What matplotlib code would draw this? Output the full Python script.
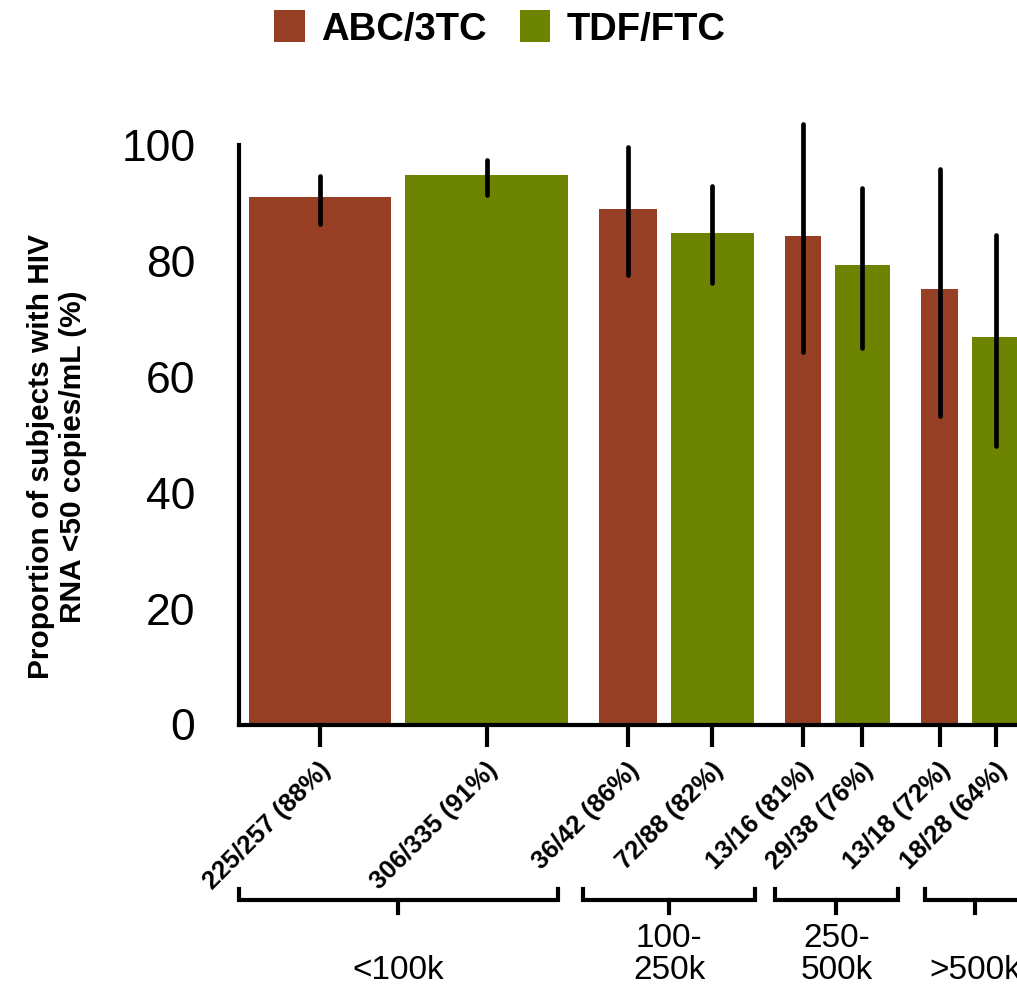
import matplotlib
matplotlib.use("Agg")
import matplotlib.pyplot as plt
import matplotlib.transforms as mtransforms
from matplotlib.patches import Patch
import numpy as np

plt.rcParams['font.family'] = ['Liberation Sans', 'DejaVu Sans']

# data
groups = ['<100k', '100-\n250k', '250-\n500k', '>500k']
arms = ['ABC/3TC', 'TDF/FTC']
colors = ['#973f25', '#6c8400']

abc_resp = [225, 36, 13, 13]
abc_n = [257, 42, 16, 18]
abc_pct = [88, 86, 81, 72]
abc_est = [91.0, 89.0, 84.3, 75.2]
abc_lo = [86.4, 77.6, 64.3, 53.3]
abc_hi = [94.6, 99.6, 103.6, 95.9]

tdf_resp = [306, 72, 29, 18]
tdf_n = [335, 88, 38, 28]
tdf_pct = [91, 82, 76, 64]
tdf_est = [94.8, 84.8, 79.3, 66.9]
tdf_lo = [91.4, 76.2, 65.0, 48.1]
tdf_hi = [97.4, 92.9, 92.6, 84.5]

# layout (x units: bar width = sqrt(n))
PX = 8.9                 # pixels per x unit
START = 10 / PX
GAP_IN = 14 / PX
GAP_OUT = 31 / PX
# bracket end padding in pixels (left, right) relative to each group's bars
BRACKET_PAD = [(-10, -10), (-16, 1), (-10, 8), (4, 6)]


def main():
    fig = plt.figure(figsize=(10.17, 9.84), dpi=100)
    W, H = 1017, 984
    x0, y0, ytop = 238.5, 724.5, 145
    xmax = 95
    ax = fig.add_axes([x0 / W, 1 - y0 / H, xmax * PX / W, (y0 - ytop) / H])

    arm_data = [
        (abc_resp, abc_n, abc_pct, abc_est, abc_lo, abc_hi),
        (tdf_resp, tdf_n, tdf_pct, tdf_est, tdf_lo, tdf_hi),
    ]

    x = START
    centers, labels, group_spans = [], [], []
    for g in range(len(groups)):
        g_left = x
        for a, (resp, n, pct, est, lo, hi) in enumerate(arm_data):
            w = np.sqrt(n[g])
            cx = x + w / 2
            ax.bar(cx, est[g], width=w, color=colors[a], zorder=1)
            ax.errorbar([cx], [est[g]], yerr=[[est[g] - lo[g]], [hi[g] - est[g]]],
                        fmt='none', ecolor='black', elinewidth=3.4, capsize=0,
                        zorder=3, clip_on=False)
            centers.append(cx)
            labels.append(f'{resp[g]}/{n[g]} ({pct[g]}%)')
            x += w + GAP_IN
        group_spans.append((g_left, x - GAP_IN))
        x += GAP_OUT - GAP_IN

    for coll in ax.collections:
        coll.set_capstyle('round')

    ax.set_xlim(0, xmax)
    ax.set_ylim(0, 100)
    ax.set_yticks([0, 20, 40, 60, 80, 100])
    ax.tick_params(axis='y', length=0, pad=31, labelsize=32)
    ax.set_xticks(centers)
    ax.set_xticklabels([])
    ax.tick_params(axis='x', length=16, width=3, direction='out')
    for side in ['top', 'right']:
        ax.spines[side].set_visible(False)
    for side in ['left', 'bottom']:
        ax.spines[side].set_linewidth(3)

    # rotated count labels under each tick
    offset = mtransforms.ScaledTranslation(-1 / 72, -24 / 72, fig.dpi_scale_trans)
    for cx, lab in zip(centers, labels):
        ax.text(cx, 0, lab, transform=ax.get_xaxis_transform() + offset,
                rotation=45, rotation_mode='anchor', ha='right', va='top',
                fontsize=18.5, fontweight='bold')

    # group brackets
    axh = y0 - ytop
    y_line = (y0 - 900) / axh
    y_end = (y0 - 889) / axh
    y_tick = (y0 - 913) / axh
    y_lab = (y0 - 979) / axh
    trans = ax.get_xaxis_transform()
    for (gl, gr), (pl, pr), name in zip(group_spans, BRACKET_PAD, groups):
        left, right = gl + pl / PX, gr + pr / PX
        mid = (left + right) / 2
        ax.plot([left, left, right, right], [y_end, y_line, y_line, y_end],
                color='black', lw=3, transform=trans, clip_on=False,
                solid_joinstyle='miter')
        ax.plot([mid, mid], [y_line, y_tick], color='black', lw=3,
                transform=trans, clip_on=False)
        ax.text(mid, y_lab, name, transform=trans, ha='center', va='baseline',
                fontsize=24, linespacing=1.05, multialignment='center')

    fig.text(57 / W, 1 - 457 / H,
             'Proportion of subjects with HIV\nRNA <50 copies/mL (%)',
             rotation=90, ha='center', va='center', multialignment='center',
             fontsize=21.5, fontweight='bold')

    handles = [Patch(facecolor=c, edgecolor='none') for c in colors]
    fig.legend(handles, arms, loc='center', ncol=2,
               bbox_to_anchor=(500 / W, 1 - 29 / H), frameon=False,
               prop={'size': 27.5, 'weight': 'bold'},
               handlelength=0.8, handleheight=0.9,
               handletextpad=0.43, columnspacing=0.85)

    fig.savefig('out.png', dpi=100)


if __name__ == '__main__':
    main()
